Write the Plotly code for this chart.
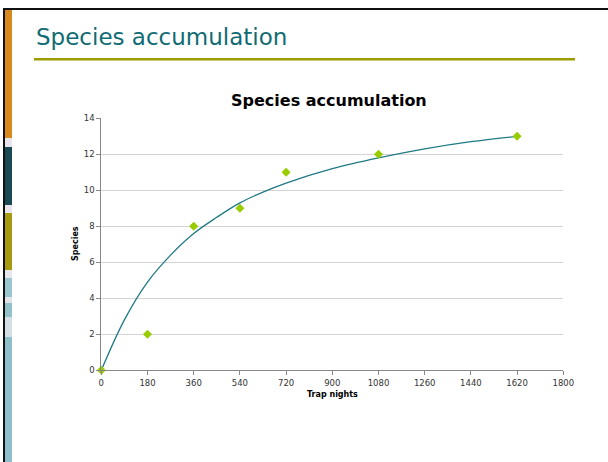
import plotly.graph_objects as go

# Observed survey data: cumulative species count against trap nights
trap_nights = [0, 180, 360, 540, 720, 1080, 1620]
species = [0, 2, 8, 9, 11, 12, 13]

# Fitted accumulation curve, sampled along the trap-night axis
curve_nights = [0, 90, 180, 270, 360, 450, 540, 630, 720, 900, 1080, 1260, 1440, 1620]
curve_species = [0, 2.8, 4.9, 6.4, 7.6, 8.5, 9.3, 9.9, 10.4, 11.2, 11.8, 12.3, 12.7, 13.0]

x_ticks = [0, 180, 360, 540, 720, 900, 1080, 1260, 1440, 1620, 1800]
y_ticks = [0, 2, 4, 6, 8, 10, 12, 14]

W, H = 608, 462


def px(x):
    return x / W


def py(y):
    return 1 - y / H


fig = go.Figure()

fig.add_trace(go.Scatter(
    x=curve_nights, y=curve_species, mode="lines",
    line=dict(color="#1f7a85", width=1.3, shape="spline", smoothing=1.0),
    hoverinfo="skip", showlegend=False,
))
fig.add_trace(go.Scatter(
    x=trap_nights, y=species, mode="markers",
    marker=dict(symbol="diamond", size=7, color="#99cc00"),
    showlegend=False, cliponaxis=False,
))

shapes = []
# slide frame: top rule and left edge
shapes.append(dict(type="rect", xref="paper", yref="paper",
                   x0=px(3), x1=px(W), y0=py(10), y1=py(8),
                   fillcolor="#111111", line_width=0, layer="above"))
shapes.append(dict(type="rect", xref="paper", yref="paper",
                   x0=px(3), x1=px(5), y0=py(H), y1=py(8),
                   fillcolor="#111111", line_width=0, layer="above"))

# coloured side band
band = [
    (10, 138, "#d8891e"),
    (138, 147, "#ebe6ee"),
    (147, 205, "#1c4a54"),
    (205, 213, "#ebe6ee"),
    (213, 270, "#a89a10"),
    (270, 278, "#e6e6ee"),
    (278, 297, "#9cc6cf"),
    (297, 303, "#e2e4ec"),
    (303, 317, "#93c1ca"),
    (317, 337, "#d4e0e6"),
    (337, H, "#8fbfcb"),
]
for y0, y1, col in band:
    shapes.append(dict(type="rect", xref="paper", yref="paper",
                       x0=px(5), x1=px(12), y0=py(y1), y1=py(y0),
                       fillcolor=col, line_width=0, layer="above"))

# rule under the slide heading
shapes.append(dict(type="rect", xref="paper", yref="paper",
                   x0=px(34), x1=px(575), y0=py(60.5), y1=py(58),
                   fillcolor="#9c9c00", line_width=0))

annotations = [
    dict(text="Species accumulation", xref="paper", yref="paper",
         x=px(34), y=py(37), xanchor="left", yanchor="middle", showarrow=False,
         font=dict(family="DejaVu Sans", size=23, color="#106b73")),
    dict(text="<b>Species accumulation</b>", xref="paper", yref="paper",
         x=px(329), y=py(101), xanchor="center", yanchor="middle", showarrow=False,
         font=dict(family="DejaVu Sans", size=16, color="#000000")),
    dict(text="<b>Trap nights</b>", xref="paper", yref="paper",
         x=px(332), y=py(394), xanchor="center", yanchor="middle", showarrow=False,
         font=dict(family="DejaVu Sans", size=8, color="#000000")),
    dict(text="<b>Species</b>", xref="paper", yref="paper", textangle=-90,
         x=px(75), y=py(244), xanchor="center", yanchor="middle", showarrow=False,
         font=dict(family="DejaVu Sans", size=8, color="#000000")),
]

axis_common = dict(
    automargin=False, zeroline=False,
    showline=True, linecolor="#888888", linewidth=1,
    ticks="outside", ticklen=4, tickcolor="#888888",
    tickfont=dict(family="DejaVu Sans", size=8.5, color="#333333"),
)

fig.update_layout(
    width=W, height=H,
    margin=dict(l=0, r=0, t=0, b=0, autoexpand=False),
    paper_bgcolor="white", plot_bgcolor="white",
    shapes=shapes, annotations=annotations,
    xaxis=dict(
        domain=[px(101.3), px(563.3)], range=[0, 1800],
        tickvals=x_ticks, ticktext=[str(v) for v in x_ticks],
        showgrid=False, **axis_common,
    ),
    yaxis=dict(
        domain=[py(370.3), py(118.3)], range=[0, 14],
        tickvals=y_ticks, ticktext=[str(v) for v in y_ticks],
        showgrid=True, gridcolor="#d4d4d4", gridwidth=1, **axis_common,
    ),
)

fig.write_html("out.html")
